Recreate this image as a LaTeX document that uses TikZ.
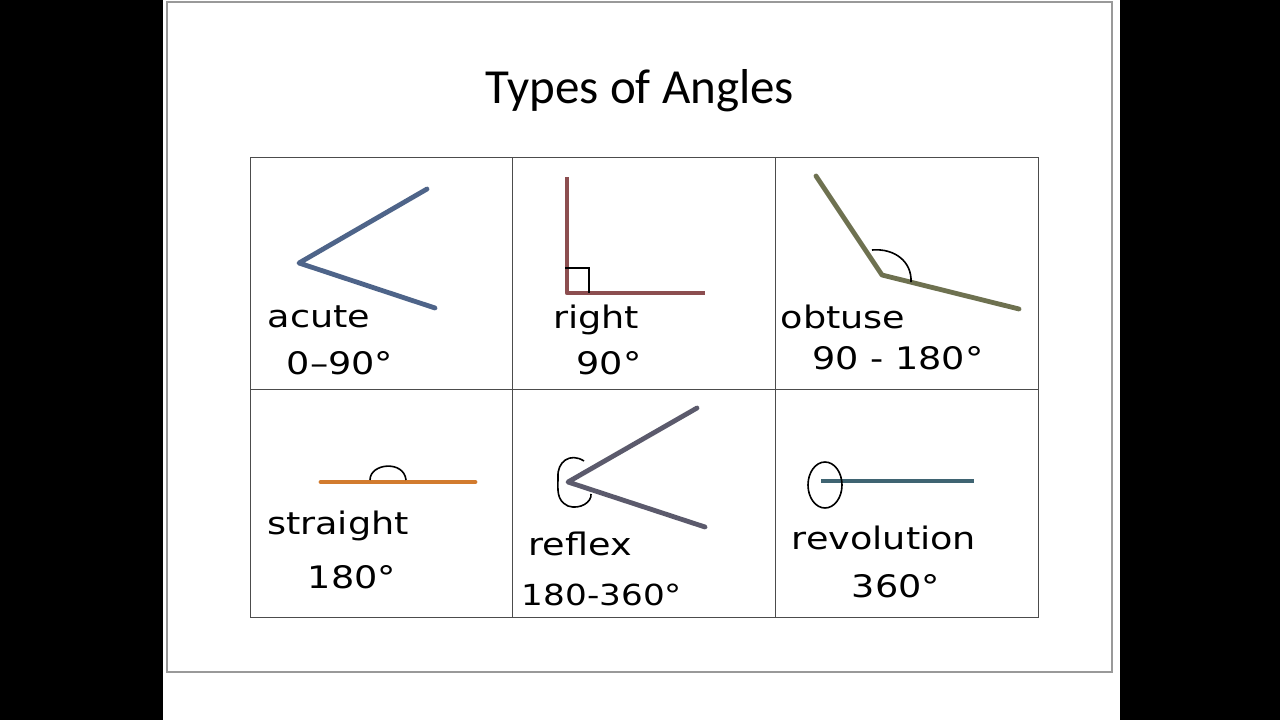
\documentclass[tikz,border=0pt]{standalone}
\usepackage{fontspec}
\setmainfont{Carlito}
\newfontfamily\hand[FakeStretch=1.18]{DejaVu Sans}
\begin{document}
\begin{tikzpicture}[x=1pt,y=-1pt,
  grid/.style={draw=black!70,line width=0.9pt},
  ray/.style={line width=4.8pt,line cap=round,line join=round},
  pen/.style={draw=black,line width=1.6pt},
  lbl/.style={font=\hand\fontsize{31}{31}\selectfont,inner sep=0pt,anchor=base},
]
\definecolor{acutec}{HTML}{4E6489}
\definecolor{rightc}{HTML}{8C4E50}
\definecolor{obtusec}{HTML}{6E7150}
\definecolor{straightc}{HTML}{D27B2E}
\definecolor{reflexc}{HTML}{5B5A6C}
\definecolor{revc}{HTML}{3F6472}
% background
\fill[black] (0,0) rectangle (1280,720);
\useasboundingbox (0,0) rectangle (1280,720);
\fill[white] (163,0) rectangle (1120,720);
\draw[black!40,line width=2.5pt] (167,2) -- (1112,2) -- (1112,672) -- (167,672) -- cycle;
% title
\node[font=\fontsize{49}{49}\selectfont] (title) at (640,91) {Types of Angles};
% table
\draw[grid] (250,157) rectangle (1038,617);
\draw[grid] (512,157) -- (512,617);
\draw[grid] (775,157) -- (775,617);
\draw[grid] (250,389) -- (1038,389);
% acute
\coordinate (a1) at (427,189); \coordinate (a0) at (299,263); \coordinate (a2) at (435,308);
\draw[ray,acutec] (a1) -- (a0) -- (a2);
\node[lbl] (acute) at (319,327) {acute};
\node[lbl] (acuted) at (340,374) {0–90°};
% right
\coordinate (r1) at (567,177); \coordinate (r0) at (567,293); \coordinate (r2) at (705,293);
\draw[ray,rightc,line cap=butt] (r1) -- (r0) -- (r2);
\draw[pen] (565,268) -- (589,268) -- (589,293);
\node[lbl] (right) at (596,328) {right};
\node[lbl] (rightd) at (609,374) {90°};
% obtuse
\coordinate (o1) at (816,176); \coordinate (o0) at (882,275); \coordinate (o2) at (1019,309);
\draw[ray,obtusec] (o1) -- (o0) -- (o2);
\draw[pen] (872,250) .. controls (895,248) and (912,262) .. (911,282);
\node[lbl] (obtuse) at (843,328) {obtuse};
\node[lbl] (obtused) at (898,369) {90 - 180°};
% straight
\coordinate (s1) at (321,482); \coordinate (s2) at (475,482);
\draw[ray,straightc] (s1) -- (s2);
\draw[pen] (370,480) .. controls (370,463) and (404,460) .. (406,480);
\node[lbl] (straight) at (338,534) {straight};
\node[lbl] (straightd) at (352,588) {180°};
% reflex
\coordinate (x1) at (697,408); \coordinate (x0) at (568,482); \coordinate (x2) at (705,527);
\draw[ray,reflexc] (x1) -- (x0) -- (x2);
\draw[pen] (584,461) .. controls (570,452) and (557,462) .. (558,477)
  .. controls (558,490) and (556,500) .. (568,506)
  .. controls (580,510) and (592,502) .. (591,494);
\node[lbl] (reflex) at (580,555) {reflex};
\node[lbl,font=\hand\fontsize{29}{29}\selectfont] (reflexd) at (602,605) {180-360°};
% revolution
\coordinate (v1) at (821,481); \coordinate (v2) at (974,481);
\draw[ray,revc,line cap=butt] (v1) -- (v2);
\draw[pen] (825,485) ellipse [x radius=17, y radius=23];
\node[lbl] (rev) at (884,549) {revolution};
\node[lbl] (revd) at (896,597) {360°};
\end{tikzpicture}
\end{document}
